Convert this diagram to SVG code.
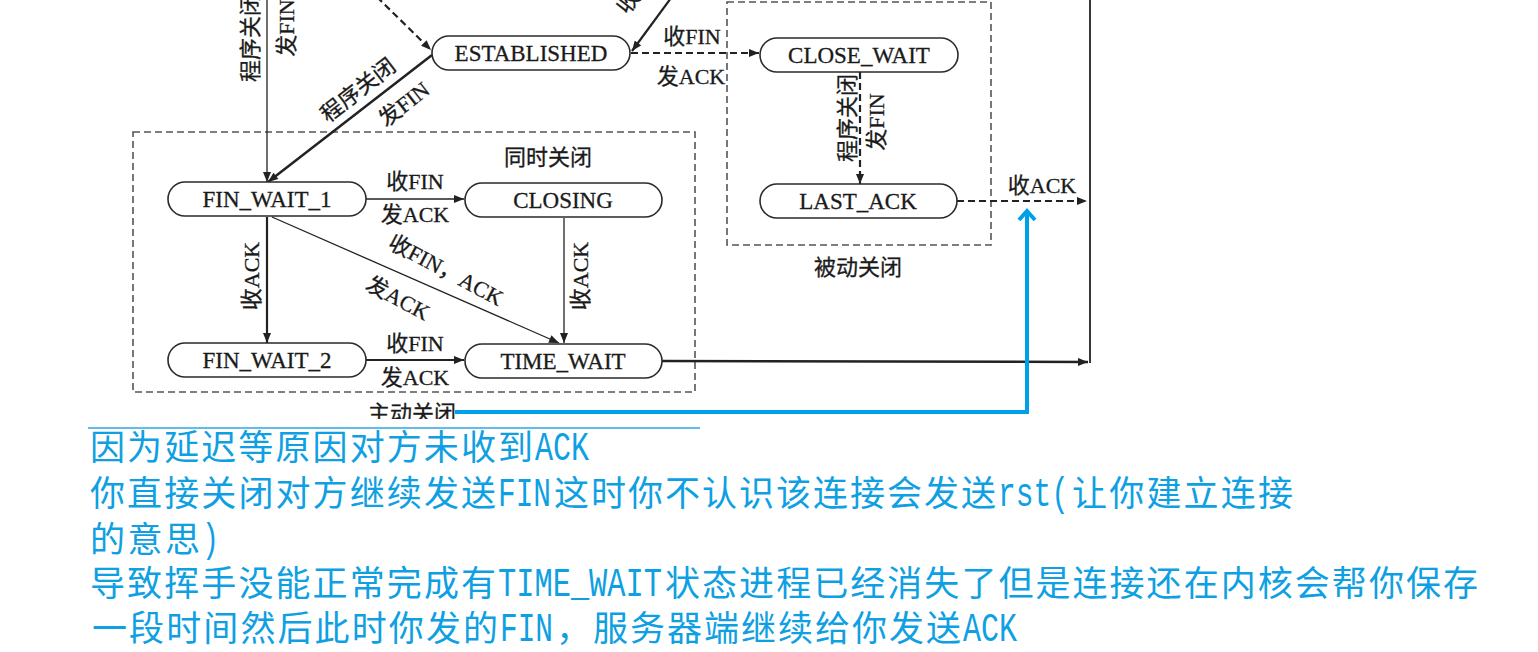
<svg xmlns="http://www.w3.org/2000/svg" width="1538" height="652" viewBox="0 0 1538 652">
<style>
.pill{fill:#fff;stroke:#2a2a2a;stroke-width:1.6}
.nt{font-family:"Liberation Serif","Noto Sans CJK SC",serif;font-size:23px;fill:#1a1a1a;text-anchor:middle;stroke:#1a1a1a;stroke-width:0.3}
.lb{font-family:"Liberation Serif","Noto Sans CJK SC",serif;font-size:22px;fill:#1a1a1a;text-anchor:middle;stroke:#1a1a1a;stroke-width:0.3}
.box{fill:none;stroke:#555;stroke-width:1.6;stroke-dasharray:7 4}
.ln{fill:none;stroke:#222}
.thin{stroke-width:1.3}
.thick{stroke-width:2.5}
.dash{stroke-width:2.2;stroke-dasharray:7 4}
.cj{font-family:"Noto Sans CJK SC",sans-serif;font-size:35px;fill:#0ea0e2}
.la{font-family:"Liberation Mono",monospace;font-size:40px;fill:#0ea0e2}
</style>
<defs>
<marker id="ah" viewBox="0 0 10 8" refX="10" refY="4" markerWidth="11" markerHeight="8" markerUnits="userSpaceOnUse" orient="auto"><path d="M0,0 L10,4 L0,8 z" fill="#222"/></marker>
<clipPath id="cut"><rect x="0" y="0" width="1538" height="419"/></clipPath>
</defs>
<rect width="1538" height="652" fill="#fff"/>

<g id="groups">
<rect class="box" x="133" y="132" width="562" height="260"/>
<rect class="box" x="727" y="2" width="264" height="243"/>
<text class="lb" x="548" y="165">同时关闭</text>
<text class="lb" x="858" y="275">被动关闭</text>
<text class="lb" x="412" y="421" clip-path="url(#cut)">主动关闭</text>
</g>

<g id="connectors">
<line class="ln dash" x1="377" y1="-3" x2="431" y2="50" marker-end="url(#ah)"/>
<line class="ln" stroke-width="2.2" x1="671" y1="-2" x2="632" y2="51" marker-end="url(#ah)"/>
<line class="ln dash" x1="631" y1="53" x2="759" y2="53" marker-end="url(#ah)"/>
<line class="ln thin" x1="267" y1="0" x2="267" y2="182" marker-end="url(#ah)"/>
<line class="ln thick" x1="432" y1="55" x2="268" y2="182" marker-end="url(#ah)"/>
<line class="ln thin" x1="366" y1="199" x2="464" y2="199" marker-end="url(#ah)"/>
<line class="ln" stroke-width="2.2" x1="267" y1="217" x2="267" y2="343" marker-end="url(#ah)"/>
<line class="ln thin" x1="272" y1="217" x2="559" y2="343" marker-end="url(#ah)"/>
<line class="ln thin" x1="564" y1="218" x2="564" y2="343" marker-end="url(#ah)"/>
<line class="ln" stroke-width="2.2" x1="366" y1="360" x2="464" y2="360" marker-end="url(#ah)"/>
<line class="ln thick" x1="662" y1="361" x2="1088" y2="362" marker-end="url(#ah)"/>
<line class="ln" stroke="#555" stroke-width="1.8" x1="1090" y1="0" x2="1090" y2="363"/>
<line class="ln dash" x1="860" y1="72" x2="860" y2="184" marker-end="url(#ah)"/>
<line class="ln dash" x1="957" y1="201" x2="1087" y2="201" marker-end="url(#ah)"/>

<text class="lb" transform="translate(628,2) rotate(-52)" dy="0.35em">收</text>
<text class="lb" x="692" y="44">收FIN</text>
<text class="lb" x="691" y="84">发ACK</text>
<text class="lb" transform="translate(250,38) rotate(-90)" dy="0.35em">程序关闭</text>
<text class="lb" transform="translate(286,28) rotate(-90)" dy="0.35em">发FIN</text>
<text class="lb" transform="translate(358,90) rotate(-38)" dy="0.35em">程序关闭</text>
<text class="lb" transform="translate(404,104) rotate(-38)" dy="0.35em">发FIN</text>
<text class="lb" x="415" y="189">收FIN</text>
<text class="lb" x="415" y="222">发ACK</text>
<text class="lb" transform="translate(251,276) rotate(-90)" dy="0.35em">收ACK</text>
<text class="lb" transform="translate(446,270) rotate(28)" dy="0.35em">收FIN，ACK</text>
<text class="lb" transform="translate(398,298) rotate(28)" dy="0.35em">发ACK</text>
<text class="lb" transform="translate(580,276) rotate(-90)" dy="0.35em">收ACK</text>
<text class="lb" x="415" y="351">收FIN</text>
<text class="lb" x="415" y="385">发ACK</text>
<text class="lb" transform="translate(847,118) rotate(-90)" dy="0.35em">程序关闭</text>
<text class="lb" transform="translate(876,122) rotate(-90)" dy="0.35em">发FIN</text>
<text class="lb" x="1042" y="193">收ACK</text>
</g>

<g id="ESTABLISHED"><rect class="pill" x="432" y="36" width="198" height="34" rx="17"/><text class="nt" x="531" y="61">ESTABLISHED</text></g>
<g id="CLOSE_WAIT"><rect class="pill" x="760" y="38" width="198" height="34" rx="17"/><text class="nt" x="859" y="63">CLOSE_WAIT</text></g>
<g id="FIN_WAIT_1"><rect class="pill" x="168" y="182" width="198" height="34" rx="17"/><text class="nt" x="267" y="207">FIN_WAIT_1</text></g>
<g id="CLOSING"><rect class="pill" x="465" y="183" width="197" height="34" rx="17"/><text class="nt" x="563" y="208">CLOSING</text></g>
<g id="LAST_ACK"><rect class="pill" x="760" y="184" width="197" height="34" rx="17"/><text class="nt" x="858" y="209">LAST_ACK</text></g>
<g id="FIN_WAIT_2"><rect class="pill" x="168" y="343" width="198" height="34" rx="17"/><text class="nt" x="267" y="368">FIN_WAIT_2</text></g>
<g id="TIME_WAIT"><rect class="pill" x="465" y="344" width="197" height="34" rx="17"/><text class="nt" x="563" y="369">TIME_WAIT</text></g>

<g id="annotation">
<polyline points="455,412 1027,412 1027,212" fill="none" stroke="#00a0e9" stroke-width="4"/>
<polyline points="1019,220 1027,211 1035,220" fill="none" stroke="#00a0e9" stroke-width="4"/>
<line x1="88" y1="428" x2="700" y2="428" stroke="#2ba6e0" stroke-width="1.5"/>

<text class="cj" x="90" y="460" textLength="443" lengthAdjust="spacing">因为延迟等原因对方未收到</text>
<text class="la" x="535" y="460" textLength="54" lengthAdjust="spacingAndGlyphs">ACK</text>

<text class="cj" x="90" y="506" textLength="406" lengthAdjust="spacing">你直接关闭对方继续发送</text>
<text class="la" x="498" y="506" textLength="53" lengthAdjust="spacingAndGlyphs">FIN</text>
<text class="cj" x="554" y="506" textLength="442" lengthAdjust="spacing">这时你不认识该连接会发送</text>
<text class="la" x="998" y="506" textLength="71" lengthAdjust="spacingAndGlyphs">rst(</text>
<text class="cj" x="1072" y="506" textLength="221" lengthAdjust="spacing">让你建立连接</text>

<text class="cj" x="90" y="552" textLength="110" lengthAdjust="spacing">的意思</text>
<text class="la" x="202" y="552" textLength="17" lengthAdjust="spacingAndGlyphs">)</text>

<text class="cj" x="90" y="596" textLength="406" lengthAdjust="spacing">导致挥手没能正常完成有</text>
<text class="la" x="498" y="596" textLength="164" lengthAdjust="spacingAndGlyphs">TIME_WAIT</text>
<text class="cj" x="665" y="596" textLength="813" lengthAdjust="spacing">状态进程已经消失了但是连接还在内核会帮你保存</text>

<text class="cj" x="92" y="641" textLength="406" lengthAdjust="spacing">一段时间然后此时你发的</text>
<text class="la" x="500" y="641" textLength="53" lengthAdjust="spacingAndGlyphs">FIN</text>
<text class="cj" x="556" y="641" textLength="405" lengthAdjust="spacing">，服务器端继续给你发送</text>
<text class="la" x="963" y="641" textLength="54" lengthAdjust="spacingAndGlyphs">ACK</text>
</g>
</svg>
